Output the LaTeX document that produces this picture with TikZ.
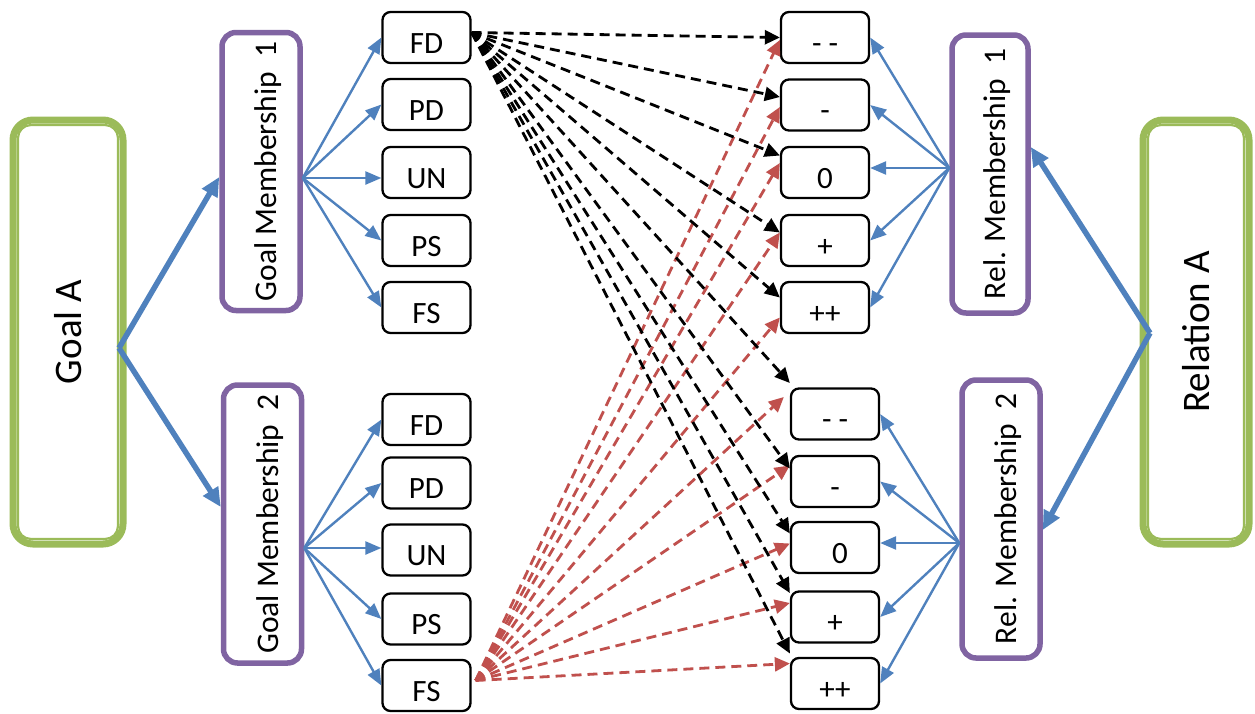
\documentclass[tikz,border=0pt]{standalone}
\usepackage{fontspec}
\setmainfont{Carlito}
\usetikzlibrary{arrows.meta,calc}
\definecolor{ogreen}{HTML}{9BBB59}
\definecolor{opurple}{HTML}{8064A2}
\definecolor{oblue}{HTML}{4F81BD}
\definecolor{ored}{HTML}{C0504D}

\begin{document}
\begin{tikzpicture}[x=1pt,y=-1pt,
  smallbox/.style={draw=black, line width=2.3pt, rounded corners=8pt,
    minimum width=88pt, minimum height=51pt, inner sep=0pt, fill=white,
    text height=31pt, text depth=0pt, font=\fontsize{31}{33}\selectfont},
  memberbox/.style={draw=opurple, line width=5.5pt, rounded corners=14pt,
    minimum width=78pt, minimum height=278pt, inner sep=0pt, fill=white},
  memberlabel/.style={rotate=90, text height=31pt, text depth=0pt,
    font=\fontsize{31.5}{33}\selectfont},
  mainbox/.style={draw=ogreen, line width=7pt, rounded corners=20pt,
    minimum width=110pt, minimum height=424pt, inner sep=0pt, fill=white},
  innerline/.style={draw=ogreen, line width=2.2pt, rounded corners=13pt},
  mainlabel/.style={rotate=90, font=\fontsize{39}{42}\selectfont},
  fan/.style={draw=oblue, line width=2.4pt, -{Triangle[length=16pt,width=13pt]}},
  bigarrow/.style={draw=oblue, line width=5.5pt, -{Triangle[length=19pt,width=17pt]}},
  blackdash/.style={draw=black, line width=2.8pt, dash pattern=on 10pt off 6pt,
    -{Triangle[length=15pt,width=14pt]}},
  reddash/.style={draw=ored, line width=2.8pt, dash pattern=on 10pt off 6pt,
    -{Triangle[length=15pt,width=14pt]}}
]
\useasboundingbox (0,0) rectangle (1255,713);

% ---- outer concept boxes ----
\node[mainbox] (ga) at (68,332) {};
\draw[innerline] ($(ga.north west)+(8.5,8.5)$) rectangle ($(ga.south east)+(-8.5,-8.5)$);
\node[mainlabel] (gatext) at (ga) {Goal A};

\node[mainbox, minimum width=106pt] (ra) at (1196,332) {};
\draw[innerline] ($(ra.north west)+(8.5,8.5)$) rectangle ($(ra.south east)+(-8.5,-8.5)$);
\node[mainlabel] (ratext) at (ra) {Relation A};

% ---- membership boxes ----
\node[memberbox] (gm1) at (261,171.5) {};
\node[memberlabel] (gm1text) at (gm1) {Goal Membership\ \ 1};
\node[memberbox] (gm2) at (262.5,524) {};
\node[memberlabel] (gm2text) at (gm2) {Goal Membership\ \ 2};
\node[memberbox, minimum width=76pt] (rm1) at (990,174) {};
\node[memberlabel] (rm1text) at (rm1) {Rel. Membership\ \ 1};
\node[memberbox] (rm2) at (1001,519) {};
\node[memberlabel] (rm2text) at (rm2) {Rel. Membership\ \ 2};

% ---- goal categories ----
\node[smallbox] (la1) at (426.5,37.5) {FD};
\node[smallbox] (la2) at (426.5,104.5) {PD};
\node[smallbox] (la3) at (426.5,172.5) {UN};
\node[smallbox] (la4) at (426.5,240.5) {PS};
\node[smallbox] (la5) at (426.5,307.5) {FS};
\node[smallbox] (lb1) at (426.5,419.5) {FD};
\node[smallbox] (lb2) at (426.5,483) {PD};
\node[smallbox] (lb3) at (426.5,550) {UN};
\node[smallbox] (lb4) at (426.5,619) {PS};
\node[smallbox] (lb5) at (426.5,685.5) {FS};

% ---- relation categories ----
\node[smallbox] (ra1) at (825,37.5) {- -};
\node[smallbox] (ra2) at (825,105) {-};
\node[smallbox] (ra3) at (825,172.5) {0};
\node[smallbox] (ra4) at (825,240.5) {+};
\node[smallbox] (ra5) at (825,307.5) {++};
\node[smallbox] (rb1) at (835,414) {- -};
\node[smallbox] (rb2) at (835,481.5) {-};
\node[smallbox] (rb3) at (835,547.5) {\hspace*{10pt}0};
\node[smallbox] (rb4) at (835,617) {+};
\node[smallbox] (rb5) at (835,683.5) {++};

% ---- fan points ----
\coordinate (gafan) at (119,348);
\coordinate (rafan) at (1150,333);
\coordinate (gm1fan) at ([yshift=-6.5pt]gm1.east);
\coordinate (gm2fan) at ([yshift=-24pt]gm2.east);
\coordinate (rm1fan) at ([yshift=6pt]rm1.west);
\coordinate (rm2fan) at ([yshift=-24pt]rm2.west);
\coordinate (fdsrc) at ([yshift=5pt]la1.east);
\coordinate (fssrc) at ([shift={(4pt,5pt)}]lb5.east);

% ---- thick arrows ----
\draw[bigarrow] (gafan) -- ([yshift=-5.5pt]gm1.west);
\draw[bigarrow] (gafan) -- ([yshift=17pt]gm2.west);
\draw[bigarrow] (rafan) -- ([yshift=27pt]rm1.east);
\draw[bigarrow] (rafan) -- ([yshift=-11pt]rm2.east);

% ---- membership fans ----
\draw[fan] (gm1fan) -- (la1.west);
\draw[fan] (gm1fan) -- (la2.west);
\draw[fan] (gm1fan) -- (la3.west |- gm1fan);
\draw[fan] (gm1fan) -- (la4.west);
\draw[fan] (gm1fan) -- (la5.west);
\draw[fan] (gm2fan) -- (lb1.west);
\draw[fan] (gm2fan) -- (lb2.west);
\draw[fan] (gm2fan) -- (lb3.west |- gm2fan);
\draw[fan] (gm2fan) -- (lb4.west);
\draw[fan] (gm2fan) -- (lb5.west);
\draw[fan] (rm1fan) -- (ra1.east);
\draw[fan] (rm1fan) -- (ra2.east);
\draw[fan] (rm1fan) -- (ra3.east |- rm1fan);
\draw[fan] (rm1fan) -- (ra4.east);
\draw[fan] (rm1fan) -- (ra5.east);
\draw[fan] (rm2fan) -- (rb1.east);
\draw[fan] (rm2fan) -- (rb2.east);
\draw[fan] (rm2fan) -- (rb3.east |- rm2fan);
\draw[fan] (rm2fan) -- (rb4.east);
\draw[fan] (rm2fan) -- (rb5.east);

% ---- links from FS ----
\draw[reddash] (fssrc) -- ([yshift=-2.5pt]ra1.west);
\draw[reddash] (fssrc) -- ([yshift=-2pt]ra2.west);
\draw[reddash] (fssrc) -- ([yshift=9.5pt]ra3.west);
\draw[reddash] (fssrc) -- ([yshift=8pt]ra4.west);
\draw[reddash] (fssrc) -- ([yshift=-10pt]ra5.west);
\draw[reddash] (fssrc) -- ([shift={(-6pt,17pt)}]rb1.west);
\draw[reddash] (fssrc) -- ([yshift=16pt]rb2.west);
\draw[reddash] (fssrc) -- ([yshift=4pt]rb3.west);
\draw[reddash] (fssrc) -- ([yshift=14pt]rb4.west);
\draw[reddash] (fssrc) -- ([yshift=20pt]rb5.west);

% ---- links from FD ----
\draw[blackdash] (fdsrc) -- (ra1.west);
\draw[blackdash] (fdsrc) -- ([yshift=8pt]ra2.west);
\draw[blackdash] (fdsrc) -- ([yshift=17pt]ra3.west);
\draw[blackdash] (fdsrc) -- ([yshift=8pt]ra4.west);
\draw[blackdash] (fdsrc) -- ([yshift=10pt]ra5.west);
\draw[blackdash] (fdsrc) -- ([yshift=31pt]rb1.west);
\draw[blackdash] (fdsrc) -- ([yshift=13pt]rb2.west);
\draw[blackdash] (fdsrc) -- ([yshift=14pt]rb3.west);
\draw[blackdash] (fdsrc) -- ([yshift=24pt]rb4.west);
\draw[blackdash] (fdsrc) -- ([yshift=30pt]rb5.west);
\end{tikzpicture}
\end{document}
